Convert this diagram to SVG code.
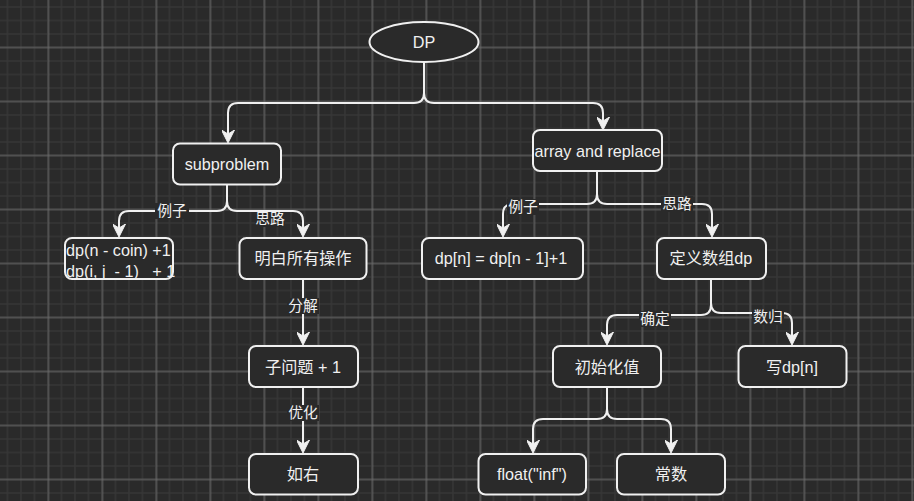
<svg xmlns="http://www.w3.org/2000/svg" width="914" height="501" viewBox="0 0 914 501">
<defs>
<pattern id="minor" width="13.5" height="13.5" patternUnits="userSpaceOnUse" x="0.75" y="0.25">
<path d="M6.75 0V13.5M0 6.75H13.5" stroke="#363636" stroke-width="1.5" fill="none"/>
</pattern>
<pattern id="major" width="54" height="54" patternUnits="userSpaceOnUse" x="21.5" y="20.5">
<path d="M27 0V54M0 27H54" stroke="#6e6e6e" stroke-width="1" fill="none"/>
</pattern>
<marker id="arr" viewBox="0 0 13 13" markerWidth="13" markerHeight="13" refX="4" refY="6.5" orient="auto" markerUnits="userSpaceOnUse">
<path d="M0,0 L13,6.5 L0,13 L4,6.5 Z" fill="#f0f0f0" stroke="#f0f0f0" stroke-width="1" stroke-linejoin="miter"/>
</marker>
</defs>
<style>
.node{fill:#2a2a2a;stroke:#f0f0f0;stroke-width:2}
.t{font-family:"Liberation Sans","Noto Sans CJK SC",sans-serif;font-size:16.2px;fill:#f0f0f0;text-anchor:middle}
.tl{font-family:"Liberation Sans","Noto Sans CJK SC",sans-serif;font-size:16.2px;fill:#f0f0f0;white-space:pre}
.lbl{font-family:"Liberation Sans","Noto Sans CJK SC",sans-serif;font-size:14.8px;fill:#f0f0f0;text-anchor:middle}
.lbg{fill:#2a2a2a}
.e{fill:none;stroke:#f0f0f0;stroke-width:2;marker-end:url(#arr)}
</style>
<rect width="914" height="501" fill="#2a2a2a"/>
<rect width="914" height="501" fill="url(#minor)"/>
<rect width="914" height="501" fill="url(#major)"/>

<g id="connectors">
<path class="e" d="M424,62 V93 Q424,103 414,103 H238 Q228,103 228,113 V134"/>
<path class="e" d="M424,62 V93 Q424,103 434,103 H593 Q603,103 603,113 V121"/>
<path class="e" d="M227,184 V201 Q227,211 217,211 H129 Q119,211 119,221 V228"/>
<path class="e" d="M227,184 V201 Q227,211 237,211 H293 Q303,211 303,221 V228"/>
<path class="e" d="M303,279 V336"/>
<path class="e" d="M303,387 V444"/>
<path class="e" d="M597,171 V194 Q597,204 587,204 H513 Q503,204 503,214 V228"/>
<path class="e" d="M597,171 V194 Q597,204 607,204 H702 Q712,204 712,214 V228"/>
<path class="e" d="M711,279 V305 Q711,315 701,315 H617 Q607,315 607,325 V336"/>
<path class="e" d="M711,279 V303 Q711,313 721,313 H782 Q792,313 792,323 V336"/>
<path class="e" d="M607,387 V409 Q607,419 597,419 H543 Q533,419 533,429 V444"/>
<path class="e" d="M607,387 V409 Q607,419 617,419 H661 Q671,419 671,429 V444"/>
<rect class="lbg" x="155" y="203" width="34" height="16"/>
<text class="lbl" x="172" y="216">例子</text>
<rect class="lbg" x="255" y="212" width="30" height="15"/>
<text class="lbl" x="270" y="224">思路</text>
<rect class="lbg" x="287" y="298" width="32" height="16"/>
<text class="lbl" x="303" y="311">分解</text>
<rect class="lbg" x="287" y="405" width="32" height="16"/>
<text class="lbl" x="303" y="418">优化</text>
<rect class="lbg" x="507" y="199" width="32" height="16"/>
<text class="lbl" x="523" y="212">例子</text>
<rect class="lbg" x="661" y="196" width="32" height="16"/>
<text class="lbl" x="677" y="209">思路</text>
<rect class="lbg" x="639" y="311" width="32" height="16"/>
<text class="lbl" x="655" y="324">确定</text>
<rect class="lbg" x="752" y="309" width="32" height="16"/>
<text class="lbl" x="768" y="322">数归</text>
</g>

<g id="n-dp"><ellipse class="node" cx="424" cy="42" rx="54.5" ry="20"/><text class="t" x="424" y="48">DP</text></g>
<g id="n-subproblem"><rect class="node" x="173" y="143.5" width="108" height="41" rx="7"/><text class="t" x="227" y="170">subproblem</text></g>
<g id="n-array"><rect class="node" x="533" y="130" width="129" height="41" rx="7"/><text class="t" x="597.5" y="157">array and replace</text></g>
<g id="n-example1"><rect class="node" x="65" y="238" width="108" height="41" rx="7"/><text class="tl" x="66" y="256">dp(n - coin) +1</text><text class="tl" x="66" y="277">dp(i, j  - 1)   + 1</text></g>
<g id="n-ops"><rect class="node" x="239.5" y="238" width="127" height="41" rx="7"/><text class="t" x="303" y="264">明白所有操作</text></g>
<g id="n-sub1"><rect class="node" x="249" y="346" width="109" height="41" rx="7"/><text class="t" x="303" y="372.5">子问题 + 1</text></g>
<g id="n-right"><rect class="node" x="249" y="454" width="109" height="40.5" rx="7"/><text class="t" x="303" y="480">如右</text></g>
<g id="n-example2"><rect class="node" x="422" y="238" width="161" height="41" rx="7"/><text class="t" x="501" y="264">dp[n] = dp[n - 1]+1</text></g>
<g id="n-define"><rect class="node" x="657" y="238" width="109" height="41" rx="7"/><text class="t" x="711" y="264">定义数组dp</text></g>
<g id="n-init"><rect class="node" x="553" y="346" width="108" height="41" rx="7"/><text class="t" x="607" y="372.5">初始化值</text></g>
<g id="n-write"><rect class="node" x="738.5" y="346" width="108" height="41" rx="7"/><text class="t" x="792" y="372.5">写dp[n]</text></g>
<g id="n-float"><rect class="node" x="478.5" y="454" width="107.5" height="40.5" rx="7"/><text class="t" x="532" y="480">float("inf")</text></g>
<g id="n-const"><rect class="node" x="617" y="454" width="108" height="40.5" rx="7"/><text class="t" x="671" y="480">常数</text></g>
</svg>
